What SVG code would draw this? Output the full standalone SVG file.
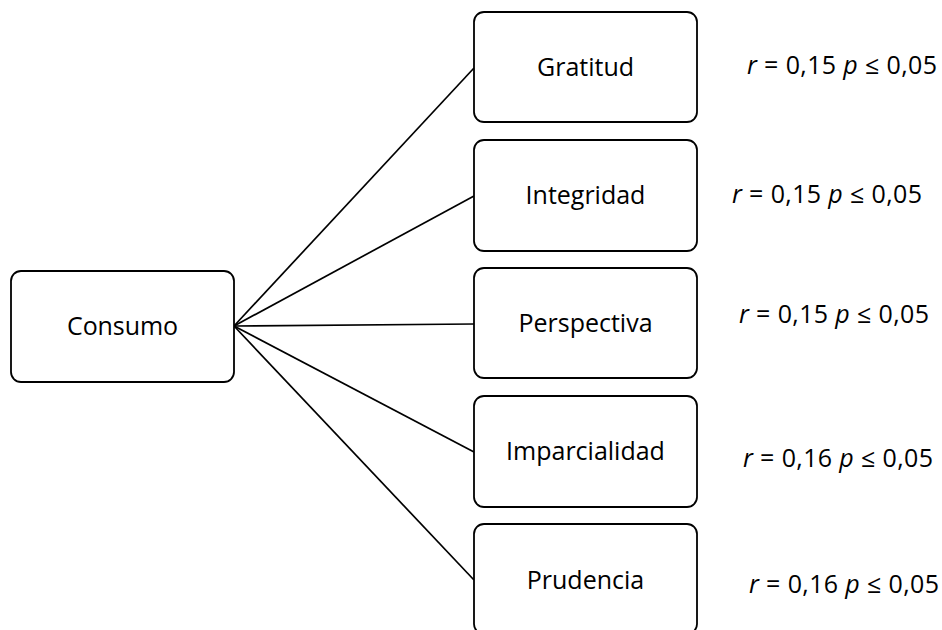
<svg xmlns="http://www.w3.org/2000/svg" width="942" height="630" viewBox="0 0 942 630">
<style>
.box{fill:#fff;stroke:#000;stroke-width:1.8}
.t{font-family:"Open Sans","Noto Sans","Liberation Sans",sans-serif;font-size:25px;fill:#000;text-anchor:middle}
.s{font-family:"Open Sans","Noto Sans","Liberation Sans",sans-serif;font-size:25px;fill:#000}
.conn line{stroke:#000;stroke-width:1.7}
</style>
<rect width="942" height="630" fill="#fff"/>
<g id="connectors" class="conn">
<line x1="234" y1="326" x2="474" y2="68"/>
<line x1="234" y1="326" x2="474" y2="196"/>
<line x1="234" y1="326" x2="474" y2="324"/>
<line x1="234" y1="326" x2="474" y2="452"/>
<line x1="234" y1="326" x2="474" y2="580"/>
</g>
<g id="consumo"><rect class="box" x="11" y="271" width="223" height="111" rx="10"/><text class="t" x="122.5" y="335" textLength="111">Consumo</text></g>
<g id="gratitud"><rect class="box" x="474" y="12" width="223" height="110" rx="10"/><text class="t" x="585.5" y="76" textLength="97">Gratitud</text><text class="s" x="747" y="74" textLength="190"><tspan font-style="italic">r</tspan> = 0,15 <tspan font-style="italic">p</tspan> ≤ 0,05</text></g>
<g id="integridad"><rect class="box" x="474" y="140" width="223" height="111" rx="10"/><text class="t" x="585.5" y="204">Integridad</text><text class="s" x="732" y="203" textLength="190"><tspan font-style="italic">r</tspan> = 0,15 <tspan font-style="italic">p</tspan> ≤ 0,05</text></g>
<g id="perspectiva"><rect class="box" x="474" y="268" width="223" height="110" rx="10"/><text class="t" x="585.5" y="332">Perspectiva</text><text class="s" x="739" y="323" textLength="190"><tspan font-style="italic">r</tspan> = 0,15 <tspan font-style="italic">p</tspan> ≤ 0,05</text></g>
<g id="imparcialidad"><rect class="box" x="474" y="396" width="223" height="111" rx="10"/><text class="t" x="585.5" y="460">Imparcialidad</text><text class="s" x="743" y="467" textLength="190"><tspan font-style="italic">r</tspan> = 0,16 <tspan font-style="italic">p</tspan> ≤ 0,05</text></g>
<g id="prudencia"><rect class="box" x="474" y="524" width="223" height="110" rx="10"/><text class="t" x="585.5" y="589">Prudencia</text><text class="s" x="749" y="593" textLength="190"><tspan font-style="italic">r</tspan> = 0,16 <tspan font-style="italic">p</tspan> ≤ 0,05</text></g>
</svg>
